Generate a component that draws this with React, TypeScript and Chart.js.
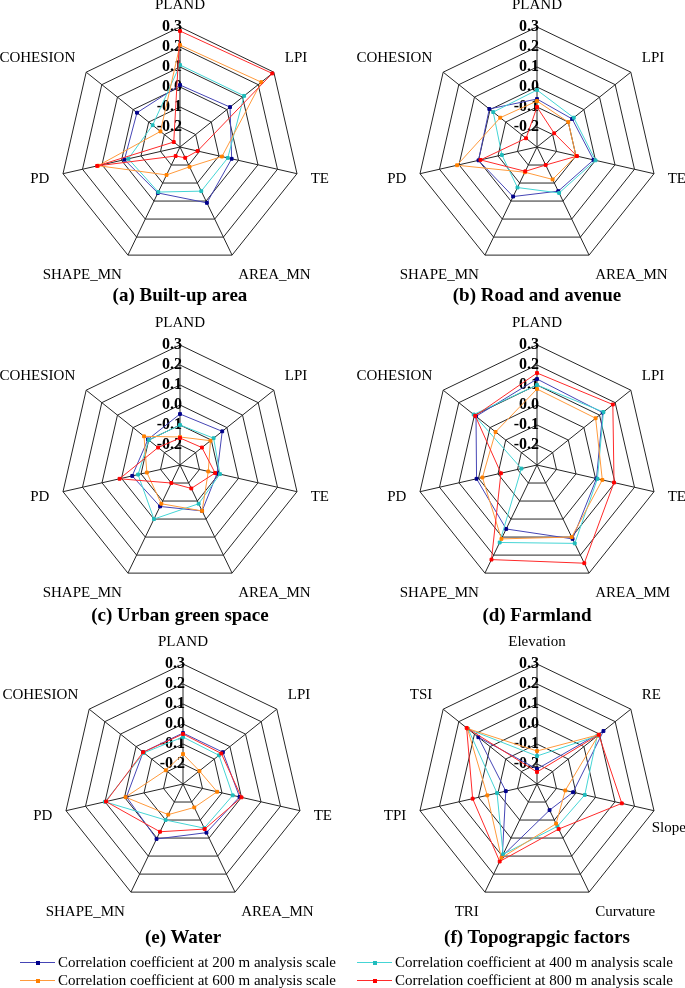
import React, { useEffect, useRef } from 'react';
import { Chart, registerables } from 'chart.js';

Chart.register(...registerables);

// ---------- categories & ticks ----------
const LANDSCAPE_LABELS = ['PLAND', 'LPI', 'TE', 'AREA_MN', 'SHAPE_MN', 'PD', 'COHESION'];
const FARMLAND_LABELS = ['PLAND', 'LPI', 'TE', 'AREA_MM', 'SHAPE_MN', 'PD', 'COHESION'];
const TOPO_LABELS = ['Elevation', 'RE', 'Slope', 'Curvature', 'TRI', 'TPI', 'TSI'];
const TICK_VALUES = [0.3, 0.2, 0.1, 0.0, -0.1, -0.2];
const TICK_LABELS = ['0.3', '0.2', '0.1', '0.0', '-0.1', '-0.2'];
const SERIES_NAMES = [
  'Correlation coefficient at 200 m analysis scale',
  'Correlation coefficient at 400 m analysis scale',
  'Correlation coefficient at 600 m analysis scale',
  'Correlation coefficient at 800 m analysis scale',
];

// ---------- series values ----------
// (a) Built-up area
const builtUp200 = [0.01, 0.02, -0.035, 0.01, -0.045, -0.015, -0.025];
const builtUp400 = [0.11, 0.11, -0.055, -0.055, -0.05, -0.035, -0.125];
const builtUp600 = [0.21, 0.22, -0.085, -0.19, -0.145, 0.12, -0.175];
const builtUp800 = [0.28, 0.29, -0.21, -0.24, -0.25, 0.125, -0.26];
// (b) Road and avenue
const road200 = [-0.06, -0.075, -0.01, -0.055, -0.025, 0.0, 0.005];
const road400 = [-0.015, -0.065, 0.0, -0.045, -0.075, -0.12, -0.02];
const road600 = [-0.07, -0.1, -0.1, -0.12, -0.16, 0.11, -0.065];
const road800 = [-0.1, -0.19, -0.095, -0.2, -0.165, -0.01, -0.23];
// (c) Urban green space
const green200 = [-0.045, -0.03, -0.11, -0.045, -0.07, -0.055, -0.095];
const green400 = [-0.1, -0.085, -0.095, -0.085, 0.0, -0.085, -0.1];
const green600 = [-0.16, -0.105, -0.155, -0.045, -0.085, -0.13, -0.07];
const green800 = [-0.165, -0.16, -0.12, -0.17, -0.2, 0.01, -0.16];
// (d) Farmland
const farm200 = [0.13, 0.12, 0.005, 0.11, 0.055, 0.01, 0.09];
const farm400 = [0.1, 0.125, 0.01, 0.135, 0.13, -0.22, 0.105];
const farm600 = [0.08, 0.075, 0.035, 0.1, 0.11, -0.02, -0.035];
const farm800 = [0.16, 0.185, 0.095, 0.245, 0.225, -0.115, 0.095];
// (e) Water
const water200 = [-0.045, -0.045, -0.01, -0.03, 0.005, -0.01, -0.045];
const water400 = [-0.065, -0.07, -0.045, -0.055, -0.1, 0.1, -0.05];
const water600 = [-0.15, -0.195, -0.125, -0.17, -0.13, -0.005, -0.19];
const water800 = [-0.05, -0.055, 0.0, -0.05, -0.035, 0.095, -0.045];
// (f) Topographic factors
const topo200 = [-0.225, 0.125, -0.115, -0.155, 0.1, -0.14, 0.075];
const topo400 = [-0.16, 0.085, -0.055, -0.065, 0.09, -0.095, 0.14];
const topo600 = [-0.135, 0.095, -0.155, -0.08, 0.11, -0.045, 0.145];
const topo800 = [-0.24, 0.095, 0.135, -0.05, 0.13, 0.03, 0.15];

// ---------- styles ----------
const LINE_COLORS = ['#4545b5', '#45d5d5', '#ff9a3c', '#ff2a2a'];
const MARKER_COLORS = ['#00008b', '#20bcbc', '#ff8000', '#ff0000'];
const SERIF = '"Liberation Serif", "Times New Roman", serif';

const LABEL_OFFSETS: Record<string, [number, number]> = {
  Slope: [-16, 12],
};

const CW = 400;
const CH = 310;
const R = 120;

const overlayPlugin = {
  id: 'radarOverlay',
  beforeDatasetsDraw(chart: any) {
    const scale = chart.scales.r;
    const ctx = chart.ctx;
    ctx.save();
    ctx.fillStyle = '#000';
    ctx.textBaseline = 'middle';
    ctx.font = `bold 16px ${SERIF}`;
    ctx.textAlign = 'right';
    TICK_VALUES.forEach((v, k) => {
      const p = scale.getPointPositionForValue(0, v);
      ctx.fillText(TICK_LABELS[k], p.x + 2, p.y);
    });
    ctx.font = `15px ${SERIF}`;
    (chart.data.labels as string[]).forEach((lab, i) => {
      const angle = scale.getIndexAngle(i);
      const p = scale.getPointPosition(i, scale.drawingArea + 14);
      const sx = Math.sin(angle);
      ctx.textAlign = Math.abs(sx) < 0.01 ? 'center' : sx > 0 ? 'left' : 'right';
      const off = LABEL_OFFSETS[lab] || [0, 0];
      ctx.fillText(lab, p.x + off[0], p.y - 8 * Math.cos(angle) + off[1]);
    });
    ctx.restore();
  },
};

type RadarProps = {
  labels: string[];
  series: number[][];
  cx: number;
  cy: number;
};

function RadarChart({ labels, series, cx, cy }: RadarProps) {
  const ref = useRef<HTMLCanvasElement | null>(null);
  useEffect(() => {
    if (!ref.current) return;
    const padX = CW / 2 - R;
    const padY = CH / 2 - R;
    const chart = new Chart(ref.current, {
      type: 'radar',
      data: {
        labels,
        datasets: series.map((d, i) => ({
          label: SERIES_NAMES[i],
          data: d,
          borderColor: LINE_COLORS[i],
          backgroundColor: MARKER_COLORS[i],
          pointBackgroundColor: MARKER_COLORS[i],
          pointBorderColor: MARKER_COLORS[i],
          pointStyle: 'rect',
          pointRadius: 2,
          pointBorderWidth: 1,
          borderWidth: 1,
          fill: false,
          order: 3 - i,
        })),
      },
      options: {
        responsive: false,
        animation: false,
        layout: { padding: { left: padX, right: padX, top: padY, bottom: padY } },
        plugins: { legend: { display: false }, tooltip: { enabled: false } },
        elements: { line: { tension: 0 } },
        scales: {
          r: {
            min: -0.3,
            max: 0.3,
            ticks: { display: false, stepSize: 0.1 },
            grid: { color: '#262626', lineWidth: 1, circular: false },
            angleLines: { color: '#262626', lineWidth: 1 },
            pointLabels: { display: false },
          },
        },
      },
      plugins: [overlayPlugin],
    } as any);
    return () => chart.destroy();
  }, [labels, series]);
  return (
    <canvas
      ref={ref}
      width={CW}
      height={CH}
      style={{ position: 'absolute', left: cx - CW / 2, top: cy - CH / 2, width: CW, height: CH }}
    />
  );
}

const PANELS = [
  { title: '(a) Built-up area', labels: LANDSCAPE_LABELS, series: [builtUp200, builtUp400, builtUp600, builtUp800], cx: 180, cy: 147, ty: 295 },
  { title: '(b) Road and avenue', labels: LANDSCAPE_LABELS, series: [road200, road400, road600, road800], cx: 537, cy: 147, ty: 295 },
  { title: '(c) Urban green space', labels: LANDSCAPE_LABELS, series: [green200, green400, green600, green800], cx: 180, cy: 465, ty: 615 },
  { title: '(d) Farmland', labels: FARMLAND_LABELS, series: [farm200, farm400, farm600, farm800], cx: 537, cy: 465, ty: 615 },
  { title: '(e) Water', labels: LANDSCAPE_LABELS, series: [water200, water400, water600, water800], cx: 183, cy: 784, ty: 937 },
  { title: '(f) Topograpgic factors', labels: TOPO_LABELS, series: [topo200, topo400, topo600, topo800], cx: 537, cy: 784, ty: 937 },
];

const LEGEND_POS = [
  { x: 20, y: 962 },
  { x: 357, y: 962 },
  { x: 20, y: 980 },
  { x: 357, y: 980 },
];

export default function App() {
  return (
    <div style={{ position: 'absolute', left: 0, top: 0, width: 685, height: 988, overflow: 'hidden', background: '#fff' }}>
      {PANELS.map((p, k) => (
        <React.Fragment key={k}>
          <RadarChart labels={p.labels} series={p.series} cx={p.cx} cy={p.cy} />
          <div
            style={{
              position: 'absolute',
              left: p.cx - 170,
              width: 340,
              top: p.ty - 12,
              height: 24,
              lineHeight: '24px',
              textAlign: 'center',
              fontFamily: SERIF,
              fontWeight: 'bold',
              fontSize: 19,
              color: '#000',
              whiteSpace: 'nowrap',
            }}
          >
            {p.title}
          </div>
        </React.Fragment>
      ))}
      {SERIES_NAMES.map((name, i) => (
        <div
          key={name}
          style={{
            position: 'absolute',
            left: LEGEND_POS[i].x,
            top: LEGEND_POS[i].y - 9,
            height: 18,
            display: 'flex',
            alignItems: 'center',
            fontFamily: SERIF,
            fontSize: 15,
            color: '#000',
            whiteSpace: 'nowrap',
          }}
        >
          <span style={{ position: 'relative', display: 'inline-block', width: 35, height: 18 }}>
            <span style={{ position: 'absolute', left: 0, width: 35, top: 9, height: 1, background: LINE_COLORS[i] }} />
            <span style={{ position: 'absolute', left: 16, top: 7.5, width: 4, height: 4, background: MARKER_COLORS[i] }} />
          </span>
          <span style={{ marginLeft: 3 }}>{name}</span>
        </div>
      ))}
    </div>
  );
}
